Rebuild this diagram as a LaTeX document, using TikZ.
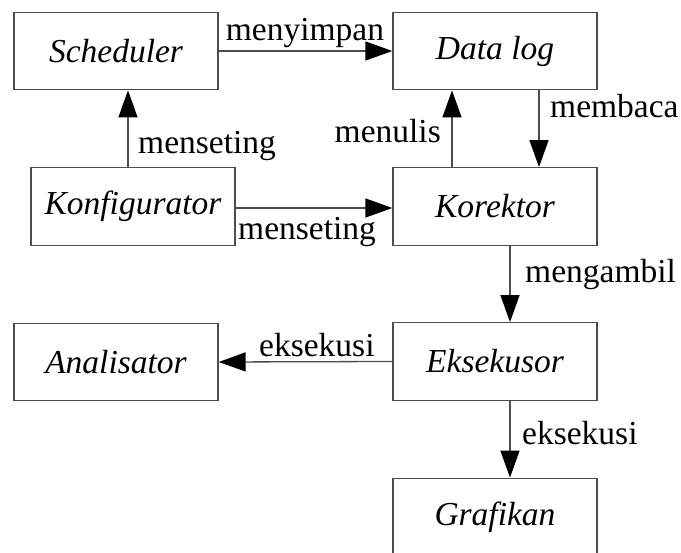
\documentclass[tikz,border=0pt]{standalone}
\usepackage{fontspec}
\setmainfont{Liberation Serif}
\usetikzlibrary{arrows.meta}
\begin{document}
\begin{tikzpicture}[x=1pt,y=-1pt,
  box/.style={draw=black!70,line width=1.3pt,minimum width=204pt,minimum height=77.5pt,
    inner sep=0pt,font=\fontsize{33.5}{40}\selectfont\itshape},
  arr/.style={draw=black!70,line width=1.3pt,-{Triangle[length=27pt,width=19pt,color=black]}},
  lbl/.style={inner sep=0pt,font=\fontsize{33.5}{40}\selectfont}]
\useasboundingbox (0,0) rectangle (681,553);
\clip (0,0) rectangle (681,553);
% blocks
\node[box] (sched) at (116,51) {Scheduler};
\node[box] (dlog)  at (495,51) {Data log};
\node[box] (konf)  at (133,206.5) {Konfigurator};
\node[box] (kor)   at (495,206.5) {Korektor};
\node[box] (anal)  at (116,362) {Analisator};
\node[box] (eks)   at (495,361.5) {Eksekusor};
\node[box] (graf)  at (495,517) {Grafikan};
% connectors
\draw[arr] (sched.east) -- (dlog.west);
\draw[arr] ([xshift=-5pt]konf.north) -- ([xshift=-5pt]konf.north |- sched.south);
\draw[arr] ([yshift=-1.5pt]konf.east) -- ([yshift=-1.5pt]kor.west);
\draw[arr] ([xshift=-43pt]kor.north) -- ([xshift=-43pt]dlog.south);
\draw[arr] ([xshift=44pt]dlog.south) -- ([xshift=44pt]kor.north);
\draw[arr] ([xshift=15pt]kor.south) -- ([xshift=15pt]eks.north);
\draw[arr] (eks.west) -- (anal.east);
\draw[arr] ([xshift=15pt]eks.south) -- ([xshift=15pt]graf.north);
% connector labels
\node[lbl,anchor=base] (l1) at (305,41) {menyimpan};
\node[lbl,anchor=base west] (l2) at (138,154) {menseting};
\node[lbl,anchor=base west] (l3) at (238,240) {menseting};
\node[lbl,anchor=base east] (l4) at (441,143) {menulis};
\node[lbl,anchor=base west] (l5) at (550,118) {membaca};
\node[lbl,anchor=base west] (l6) at (525,283) {mengambil};
\node[lbl,anchor=base west] (l7) at (259,357) {eksekusi};
\node[lbl,anchor=base west] (l8) at (522,445) {eksekusi};
\end{tikzpicture}
\end{document}
